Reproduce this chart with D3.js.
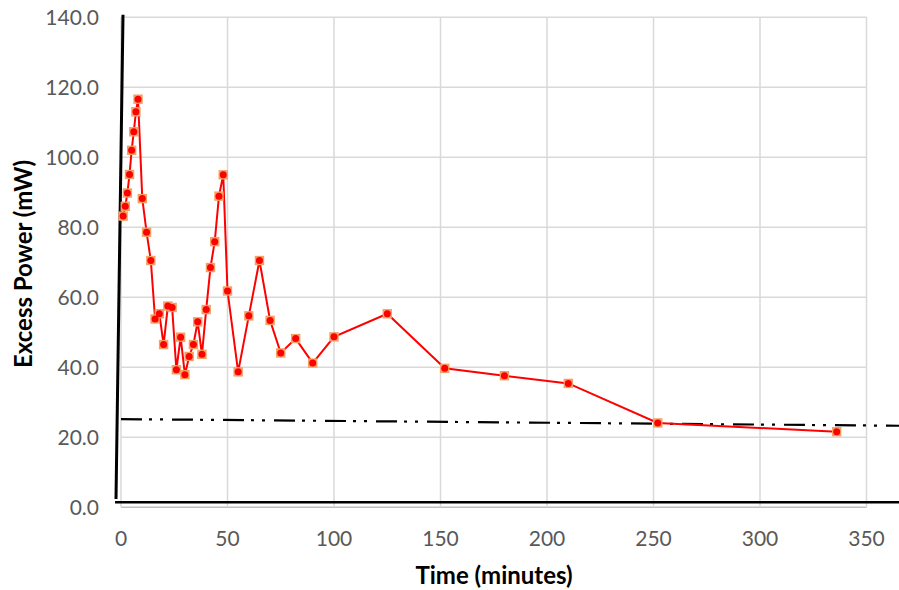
<!DOCTYPE html>
<html><head><meta charset="utf-8">
<script src="https://cdn.jsdelivr.net/npm/d3@7/dist/d3.min.js"></script>
<style>body{margin:0;background:#fff}svg{display:block}</style>
</head><body><svg id="c" width="899" height="590"></svg>
<script>
const times = [1,2,3,4,5,6,7,8,10,12,14,16,18,20,22,24,26,28,30,32,34,36,38,40,42,44,46,48,50,55,60,65,70,75,82,90,100,125,152,180,210,252,336];
const power = [83.2,86.0,89.8,95.1,102.0,107.3,113.0,116.6,88.2,78.6,70.5,53.8,55.3,46.5,57.5,57.1,39.3,48.6,37.9,43.1,46.5,53.0,43.7,56.5,68.5,75.9,88.9,95.0,61.8,38.7,54.7,70.5,53.4,44.1,48.2,41.2,48.7,55.3,39.7,37.6,35.4,24.1,21.6];
const xTicks = [0,50,100,150,200,250,300,350];
const yTicks = [0,20,40,60,80,100,120,140];
const trendX = [0, 365.5];
const trendY = [25.2, 23.3];
// hand-drawn axis strokes (data coords)
const vAxisX = [-2.35, 0.94], vAxisY = [2.4, 140.7];
const hAxisX = [-2.8, 365.5], hAxisY = [1.43, 1.43];

const svg = d3.select("#c");
const x = d3.scaleLinear().domain([0,350]).range([121,866.5]);
const y = d3.scaleLinear().domain([0,140]).range([507.3,17.3]);
const font = "Lato, 'Liberation Sans', sans-serif";

// grid
svg.append("g").selectAll("line").data(yTicks).join("line")
  .attr("x1", x(0)).attr("x2", x(350)).attr("y1", d=>y(d)).attr("y2", d=>y(d))
  .attr("stroke", d=> d===0 ? "#BFBFBF" : "#D9D9D9").attr("stroke-width", 1.5);
svg.append("g").selectAll("line").data(xTicks).join("line")
  .attr("y1", y(0)).attr("y2", y(140)).attr("x1", d=>x(d)).attr("x2", d=>x(d))
  .attr("stroke", "#D9D9D9").attr("stroke-width", 1.5);

// tick labels
svg.append("g").selectAll("text").data(yTicks).join("text")
  .attr("x", 99).attr("y", d=>y(d)+7.5).attr("text-anchor","end")
  .attr("font-family", font).attr("font-size", 21).attr("fill","#595959")
  .text(d=>d.toFixed(1));
svg.append("g").selectAll("text").data(xTicks).join("text")
  .attr("x", d=>x(d)).attr("y", 546).attr("text-anchor","middle")
  .attr("font-family", font).attr("font-size", 21).attr("fill","#595959")
  .text(d=>d);

// axis titles
svg.append("text").attr("x", 494).attr("y", 584).attr("text-anchor","middle")
  .attr("font-family", font).attr("font-weight","bold").attr("font-size", 24).attr("fill","#000")
  .text("Time (minutes)");
svg.append("text").attr("transform","translate(32,264) rotate(-90)").attr("text-anchor","middle")
  .attr("font-family", font).attr("font-weight","bold").attr("font-size", 24).attr("fill","#000")
  .text("Excess Power (mW)");

// trend (dash-dot-dot)
svg.append("line")
  .attr("x1", x(trendX[0])).attr("y1", y(trendY[0])).attr("x2", x(trendX[1])).attr("y2", y(trendY[1]))
  .attr("stroke","#000").attr("stroke-width",2.2).attr("stroke-dasharray","21,7,3,8,3,9");

// hand-drawn axes
svg.append("line").attr("x1", x(vAxisX[0])).attr("y1", y(vAxisY[0])).attr("x2", x(vAxisX[1])).attr("y2", y(vAxisY[1]))
  .attr("stroke","#000").attr("stroke-width",3);
svg.append("line").attr("x1", x(hAxisX[0])).attr("y1", y(hAxisY[0])).attr("x2", x(hAxisX[1])).attr("y2", y(hAxisY[1]))
  .attr("stroke","#000").attr("stroke-width",2.5);

// series
const data = times.map((t,i)=>({t, v:power[i]}));
svg.append("path").datum(data)
  .attr("d", d3.line().x(d=>x(d.t)).y(d=>y(d.v)))
  .attr("fill","none").attr("stroke","#FF0000").attr("stroke-width",2);
svg.append("g").selectAll("rect").data(data).join("rect")
  .attr("x", d=>x(d.t)-4.7).attr("y", d=>y(d.v)-4.7).attr("width",9.4).attr("height",9.4)
  .attr("fill","#F4A064");
svg.append("g").selectAll("circle").data(data).join("circle")
  .attr("cx", d=>x(d.t)).attr("cy", d=>y(d.v)).attr("r",3.5)
  .attr("fill","#FF0000");
</script></body></html>
